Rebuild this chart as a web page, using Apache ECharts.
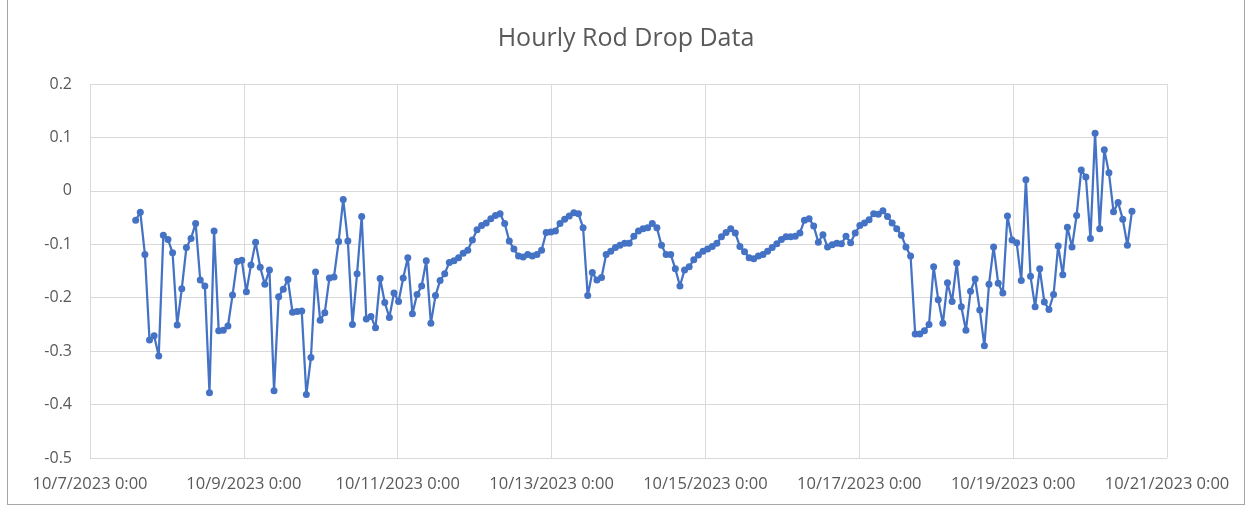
<!DOCTYPE html>
<html>
<head>
<meta charset="utf-8">
<script src="https://cdn.jsdelivr.net/npm/echarts@6/dist/echarts.min.js"></script>
<style>
  html, body { margin: 0; padding: 0; background: #fff; }
  #wrap { position: relative; width: 1252px; height: 506px; overflow: hidden; }
  #frame { position: absolute; left: 7px; top: -2px; width: 1238px; height: 507px; border: 1px solid #a6a6a6; box-sizing: border-box; }
  #chart { position: absolute; left: 0; top: 0; width: 1252px; height: 506px; }
</style>
</head>
<body>
<div id="wrap">
  <div id="frame"></div>
  <div id="chart"></div>
</div>
<script>
// hours since 10/7/2023 0:00 for the first reading, and spacing between readings
const firstHour = 14.25
const stepHours = 1.439

// rod drop readings
const rodDrop = [
  -0.055, -0.040, -0.119, -0.279, -0.271, -0.309, -0.083, -0.091, -0.116, -0.251,
  -0.183, -0.106, -0.089, -0.061, -0.167, -0.178, -0.378, -0.075, -0.262, -0.261,
  -0.253, -0.195, -0.132, -0.130, -0.189, -0.139, -0.096, -0.143, -0.175, -0.148,
  -0.374, -0.198, -0.184, -0.166, -0.227, -0.226, -0.225, -0.381, -0.312, -0.152,
  -0.242, -0.228, -0.163, -0.161, -0.095, -0.016, -0.094, -0.250, -0.155, -0.048,
  -0.240, -0.235, -0.256, -0.164, -0.209, -0.237, -0.191, -0.207, -0.163, -0.125,
  -0.230, -0.194, -0.178, -0.131, -0.248, -0.196, -0.168, -0.155, -0.134, -0.131,
  -0.125, -0.117, -0.111, -0.092, -0.073, -0.065, -0.060, -0.052, -0.046, -0.043,
  -0.061, -0.094, -0.109, -0.122, -0.124, -0.119, -0.122, -0.119, -0.111, -0.078,
  -0.077, -0.075, -0.061, -0.053, -0.047, -0.041, -0.043, -0.069, -0.196, -0.153,
  -0.167, -0.162, -0.119, -0.113, -0.106, -0.102, -0.098, -0.098, -0.085, -0.075,
  -0.071, -0.069, -0.061, -0.069, -0.102, -0.119, -0.119, -0.146, -0.178, -0.148,
  -0.142, -0.129, -0.120, -0.113, -0.109, -0.104, -0.098, -0.086, -0.078, -0.071,
  -0.079, -0.104, -0.114, -0.125, -0.127, -0.122, -0.119, -0.113, -0.106, -0.099,
  -0.091, -0.086, -0.086, -0.085, -0.079, -0.055, -0.052, -0.066, -0.096, -0.082,
  -0.105, -0.101, -0.098, -0.099, -0.085, -0.097, -0.079, -0.065, -0.060, -0.054,
  -0.043, -0.044, -0.037, -0.048, -0.060, -0.071, -0.083, -0.105, -0.122, -0.268,
  -0.268, -0.262, -0.250, -0.142, -0.204, -0.248, -0.172, -0.207, -0.135, -0.217,
  -0.261, -0.188, -0.165, -0.223, -0.290, -0.175, -0.105, -0.173, -0.191, -0.047,
  -0.092, -0.097, -0.168, 0.021, -0.160, -0.217, -0.146, -0.208, -0.222, -0.194,
  -0.103, -0.157, -0.068, -0.105, -0.046, 0.039, 0.026, -0.089, 0.108, -0.071,
  0.077, 0.034, -0.039, -0.022, -0.053, -0.102, -0.038
]

const xMin = 0
const xMax = 336
const xStep = 48

const points = rodDrop.map((v, i) => [firstHour + i * stepHours, v])

const fmtDate = (h) => {
  const d = new Date(2023, 9, 7 + Math.round(h / 24))
  return (d.getMonth() + 1) + '/' + d.getDate() + '/' + d.getFullYear() + ' 0:00'
}

const chart = echarts.init(document.getElementById('chart'))

chart.setOption({
  animation: false,
  textStyle: { fontFamily: 'Open Sans' },
  title: {
    text: 'Hourly Rod Drop Data',
    left: 'center',
    top: 21,
    textStyle: { fontFamily: 'Open Sans', fontSize: 25, fontWeight: 'normal', color: '#595959' }
  },
  grid: { left: 90, right: 85, top: 84, bottom: 48 },
  xAxis: {
    type: 'value',
    min: xMin,
    max: xMax,
    interval: xStep,
    axisLine: { show: false },
    axisTick: { show: false },
    splitLine: { show: true, lineStyle: { color: '#d9d9d9', width: 1 } },
    axisLabel: {
      formatter: fmtDate,
      color: '#595959',
      fontSize: 16.5,
      margin: 18,
      showMinLabel: true,
      showMaxLabel: true
    }
  },
  yAxis: {
    type: 'value',
    min: -0.5,
    max: 0.2,
    interval: 0.1,
    axisLine: { show: false },
    axisTick: { show: false },
    splitLine: { lineStyle: { color: '#d9d9d9', width: 1 } },
    axisLabel: {
      formatter: (v) => String(Math.round(v * 10) / 10),
      color: '#595959',
      fontSize: 16,
      margin: 18
    }
  },
  series: [
    {
      name: 'Rod Drop',
      type: 'line',
      data: points,
      symbol: 'circle',
      symbolSize: 7,
      showAllSymbol: true,
      lineStyle: { color: '#4472c4', width: 2.25 },
      itemStyle: { color: '#4472c4' }
    }
  ]
})
</script>
</body>
</html>
